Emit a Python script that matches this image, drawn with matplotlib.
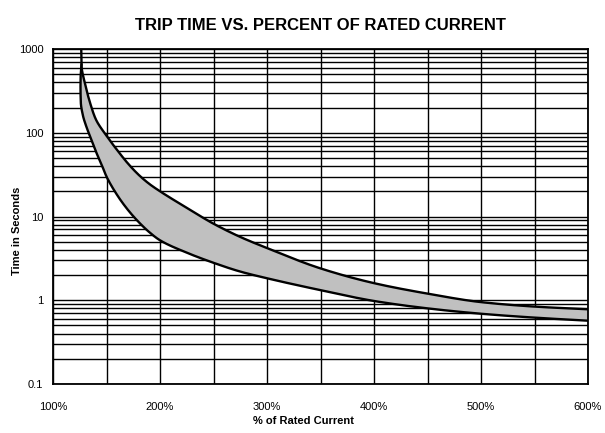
import matplotlib
matplotlib.use("Agg")
import matplotlib.pyplot as plt
import numpy as np
from matplotlib.ticker import FixedLocator, NullFormatter, LogLocator

plt.rcParams['font.family'] = ['Liberation Sans', 'DejaVu Sans']

# Upper (max) trip curve: % rated current vs seconds
upper_x = [126.4, 126.6, 130, 135, 140, 150, 160, 170, 180, 190, 200, 225, 250, 275, 300, 350, 400, 450, 500, 550, 600]
upper_y = [1000, 650, 380, 220, 145, 92, 62, 43, 31.5, 24.5, 20, 12.7, 8.2, 5.7, 4.2, 2.4, 1.6, 1.2, 0.95, 0.84, 0.78]

# Lower (min) trip curve
lower_x = [126.6, 125.9, 125.7, 126.0, 128, 131, 135, 140, 145, 150, 160, 170, 180, 190, 200, 225, 250, 275, 300, 350, 400, 450, 500, 550, 600]
lower_y = [650, 500, 350, 230, 160, 120, 88, 60, 43, 30, 18, 12, 8.6, 6.5, 5.2, 3.7, 2.8, 2.2, 1.83, 1.32, 0.98, 0.8, 0.69, 0.62, 0.57]

x_ticks = [100, 200, 300, 400, 500, 600]
x_tick_labels = ["100%", "200%", "300%", "400%", "500%", "600%"]
y_ticks = [0.1, 1, 10, 100, 1000]
y_tick_labels = ["0.1", "1", "10", "100", "1000"]


def pchip(t, v, tt):
    t = np.asarray(t, float); v = np.asarray(v, float)
    h = np.diff(t); d = np.diff(v) / h
    n = len(t); m = np.zeros(n)
    for k in range(1, n - 1):
        if d[k - 1] * d[k] > 0:
            w1 = 2 * h[k] + h[k - 1]; w2 = h[k] + 2 * h[k - 1]
            m[k] = (w1 + w2) / (w1 / d[k - 1] + w2 / d[k])
    m[0] = d[0]; m[-1] = d[-1]
    idx = np.clip(np.searchsorted(t, tt) - 1, 0, n - 2)
    s = (tt - t[idx]) / h[idx]
    h00 = 2 * s**3 - 3 * s**2 + 1; h10 = s**3 - 2 * s**2 + s
    h01 = -2 * s**3 + 3 * s**2; h11 = s**3 - s**2
    return h00 * v[idx] + h10 * h[idx] * m[idx] + h01 * v[idx + 1] + h11 * h[idx] * m[idx + 1]


def smooth_curve(xs, ys):
    px = np.asarray(xs, float) / 107.0
    py = np.log10(np.asarray(ys, float)) * 0.8375
    dist = np.concatenate([[0], np.cumsum(np.hypot(np.diff(px), np.diff(py)))])
    tt = np.linspace(0, dist[-1], 1000)
    sx = pchip(dist, np.asarray(xs, float), tt)
    sy = 10 ** pchip(dist, np.log10(ys), tt)
    return sx, sy


ux, uy = smooth_curve(upper_x, upper_y)
lx, ly = smooth_curve(lower_x, lower_y)

fig = plt.figure(figsize=(6.05, 4.33), dpi=100)
ax = fig.add_axes([53/605, 1-384/433, (588-53)/605, (384-49)/433])

ax.set_yscale('log')
ax.set_xlim(100, 600)
ax.set_ylim(0.1, 1000)

mask = uy <= 650
ax.fill(np.concatenate([ux[mask], lx[::-1]]), np.concatenate([uy[mask], ly[::-1]]),
        color='#c0c0c0', zorder=2, lw=0)

ax.plot(ux, uy, color='black', lw=1.7, zorder=4, solid_capstyle='butt')
ax.plot(lx, ly, color='black', lw=1.7, zorder=4)

# grid
ax.xaxis.set_major_locator(FixedLocator(x_ticks))
ax.xaxis.set_minor_locator(FixedLocator([150, 250, 350, 450, 550]))
ax.yaxis.set_major_locator(FixedLocator(y_ticks))
ax.yaxis.set_minor_locator(LogLocator(base=10, subs=np.arange(2, 10)))
ax.yaxis.set_minor_formatter(NullFormatter())
ax.set_xticklabels(x_tick_labels)
ax.set_yticklabels(y_tick_labels)
ax.grid(which='both', axis='both', color='black', lw=1.0, zorder=1)
ax.set_axisbelow(True)
ax.tick_params(which='both', length=0, labelsize=8)
ax.tick_params(axis='x', pad=13)
ax.tick_params(axis='y', pad=7)
for s in ax.spines.values():
    s.set_linewidth(1.3)
    s.set_zorder(5)

ax.set_title("TRIP TIME VS. PERCENT OF RATED CURRENT", fontsize=12, fontweight='bold', pad=14)
ax.set_xlabel("% of Rated Current", fontsize=8, fontweight='bold')
ax.xaxis.set_label_coords(0.469, -0.097)
ax.set_ylabel("Time in Seconds", fontsize=8, fontweight='bold')
ax.yaxis.set_label_coords(-0.058, 0.457)

fig.savefig("out.png", dpi=100)
